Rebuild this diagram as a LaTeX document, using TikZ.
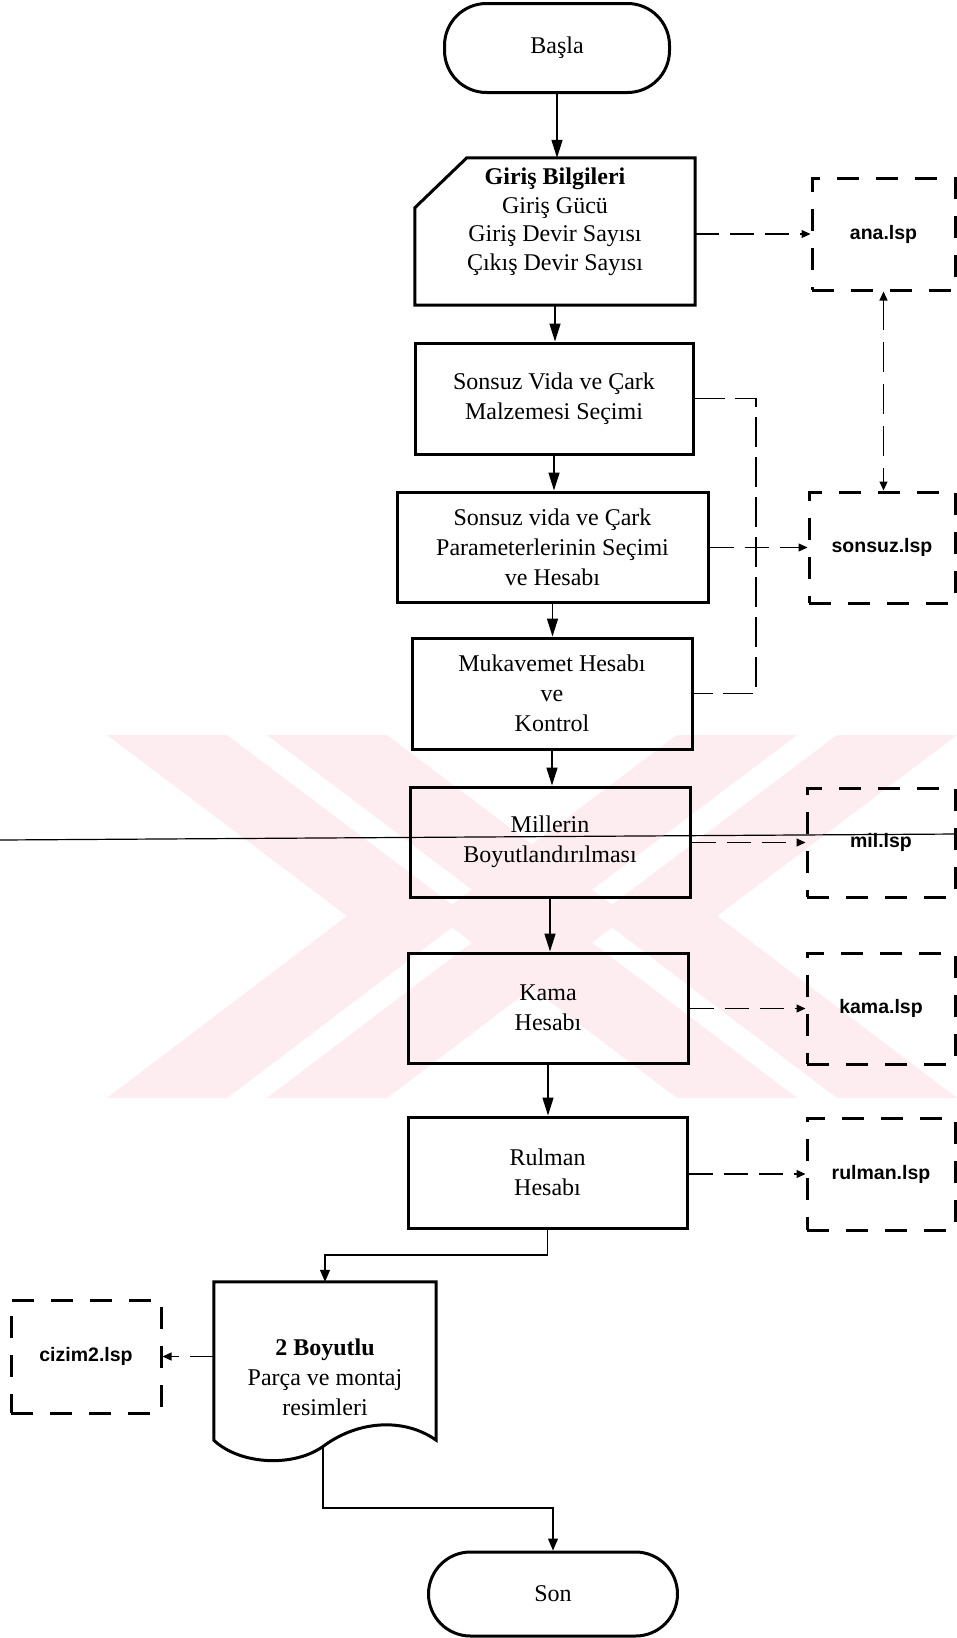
\documentclass[tikz,border=0pt]{standalone}
\usepackage{fontspec}
\setmainfont{Liberation Serif}
\newfontfamily\lspfont{Liberation Sans}
\usetikzlibrary{arrows.meta,calc}
\definecolor{wm}{RGB}{253,236,240}
\begin{document}
\begin{tikzpicture}[x=1pt,y=-1pt,
  box/.style={draw,line width=3pt,inner sep=0pt,align=center,font=\fontsize{24}{30}\selectfont},
  term/.style={draw,line width=3pt,rounded corners=42pt,inner sep=0pt,font=\fontsize{24}{30}\selectfont},
  shapebox/.style={inner sep=0pt},
  txt/.style={inner sep=0pt,align=center},
  lsp/.style={draw,line width=3pt,dash pattern=on 22pt off 17pt,inner sep=0pt,minimum width=146pt,minimum height=110pt,font=\lspfont\bfseries\fontsize{19.5}{22}\selectfont},
  arr/.style={line width=1.5pt,-{Triangle[length=18pt,width=11pt]}},
  sarr/.style={line width=1.3pt,-{Triangle[length=12pt,width=10pt]}},
  dconn/.style={line width=1.2pt,dash pattern=on 24pt off 11pt,-{Triangle[length=9pt,width=8pt]}},
  dline/.style={line width=1.2pt,dash pattern=on 30pt off 10pt}
]
\useasboundingbox (0,0) rectangle (957,1638);
% watermark
\fill[wm] (107,735) -- (227,735) -- (467,916) -- (227,1098) -- (107,1098) -- (347,916) -- cycle;
\fill[wm] (267,735) -- (387,735) -- (627,916) -- (387,1098) -- (267,1098) -- (507,916) -- cycle;
\fill[wm] (837,735) -- (957,735) -- (717,916) -- (957,1098) -- (837,1098) -- (597,916) -- cycle;
\fill[wm] (677,735) -- (797,735) -- (557,916) -- (797,1098) -- (677,1098) -- (437,916) -- cycle;

% main nodes
\node[term,minimum width=225pt,minimum height=89pt] (basla) at (557,48) {Başla};
\node[shapebox,minimum width=280pt,minimum height=147pt] (giris) at (555,231.5) {};
\draw[line width=3pt,line join=miter] ($(giris.north west)+(0,50)$) -- ($(giris.north west)+(52,0)$) -- (giris.north east) -- (giris.south east) -- (giris.south west) -- cycle;
\node[txt,font=\fontsize{24}{28.5}\selectfont] (giristxt) at (555,222) {\textbf{Giriş Bilgileri}\\Giriş Gücü\\Giriş Devir Sayısı\\Çıkış Devir Sayısı};
\node[box,minimum width=278pt,minimum height=111pt] (sv) at (554,398.5) {Sonsuz Vida ve Çark\\Malzemesi Seçimi};
\node[box,minimum width=311pt,minimum height=110pt] (par) at (552.5,547) {Sonsuz vida ve Çark\\Parameterlerinin Seçimi\\ve Hesabı};
\node[box,minimum width=280pt,minimum height=111pt] (muk) at (552,693.5) {Mukavemet Hesabı\\ve\\Kontrol};
\node[box,minimum width=280pt,minimum height=110pt] (mill) at (550,842) {Millerin\\Boyutlandırılması};
\node[box,minimum width=280pt,minimum height=110pt] (kama) at (548,1008) {Kama\\Hesabı};
\node[box,minimum width=279pt,minimum height=111pt] (rul) at (547.5,1172.5) {Rulman\\Hesabı};
\node[shapebox,minimum width=222pt,minimum height=158pt] (doc) at (325,1361) {};
\draw[line width=3pt] (doc.south west) -- (doc.north west) -- (doc.north east) -- (doc.south east)
  .. controls (405,1418) and (360,1420) .. (325,1445)
  .. controls (295,1468) and (240,1465) .. (doc.south west) -- cycle;
\node[txt,font=\fontsize{24}{30}\selectfont] (doctxt) at (325,1377) {\textbf{2 Boyutlu}\\Parça ve montaj\\resimleri};
\node[term,minimum width=249pt,minimum height=84pt] (son) at (553,1594) {Son};

% lsp nodes
\node[lsp,minimum width=143pt,minimum height=112pt] (ana) at (883.5,234) {ana.lsp};
\node[lsp,minimum height=111pt] (sonsuz) at (882,547.5) {sonsuz.lsp};
\node[lsp,minimum width=148pt,minimum height=109pt] (mil) at (881,842.5) {mil.lsp};
\node[lsp,minimum width=148pt,minimum height=111pt] (kamal) at (881,1008.5) {kama.lsp};
\node[lsp,minimum width=148pt,minimum height=112pt] (rull) at (881,1174) {rulman.lsp};
\node[lsp,minimum width=150pt,minimum height=113pt] (cizim) at (86,1356.5) {cizim2.lsp};

% main arrows
\draw[arr] (basla.south) -- (basla.south |- giris.north);
\draw[arr] (giris.south) -- (giris.south |- sv.north);
\draw[arr] (sv.south) -- (sv.south |- par.north);
\draw[arr] (par.south) -- (par.south |- muk.north);
\draw[arr] (muk.south) -- (muk.south |- mill.north);
\draw[arr] (mill.south) -- (mill.south |- kama.north);
\draw[arr] (kama.south) -- (kama.south |- rul.north);
\coordinate (rj) at (549,1255);
\draw[sarr] (rul.south) -- (rul.south |- rj) -| (doc.north);
\coordinate (dj) at (546,1508);
\coordinate (db) at (323,1446);
\draw[sarr] (db) -- (db |- dj) -| (son.north);

% dashed connectors
\draw[dconn] (giris.east |- ana.west) -- (ana.west);
\draw[line width=1.2pt,dash pattern=on 30pt off 12pt,{Triangle[length=9pt,width=8pt]}-{Triangle[length=9pt,width=8pt]}] (ana.south) -- (ana.south |- sonsuz.north);
\coordinate (jx) at (756,0);
\draw[dline] (sv.east) -| (jx |- muk.east) -- (muk.east);
\draw[dconn] (par.east |- sonsuz.west) -- (sonsuz.west);
\draw[dconn] (mill.east |- mil.west) -- (mil.west);
\draw[dconn] (kama.east |- kamal.west) -- (kamal.west);
\draw[dconn] (rul.east |- rull.west) -- (rull.west);
\draw[dconn] (doc.west |- cizim.east) -- (cizim.east);

% scan line
\coordinate (sl1) at (0,840);
\coordinate (sl2) at (957,834);
\draw[line width=1.2pt] (sl1) -- (sl2);
\end{tikzpicture}
\end{document}
